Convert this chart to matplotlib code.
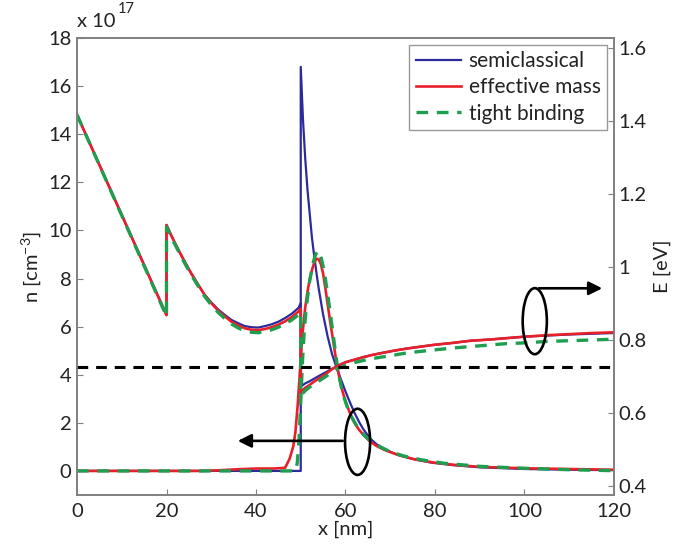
import numpy as np
import matplotlib.pyplot as plt
from matplotlib.patches import Ellipse
from matplotlib.lines import Line2D
from matplotlib.ticker import FuncFormatter

plt.rcParams['font.family'] = ['Lato', 'DejaVu Sans']

# electron density, units of 1e17 cm^-3
x_n_sc = [0, 50, 50, 50.5, 51, 51.5, 52, 52.5, 53, 53.5, 54, 55, 56, 57, 58, 59, 60, 61, 62, 63, 64,
          65.5, 67, 69, 71.5, 75, 79, 84, 90, 100, 110, 120]
n_sc = [0, 0, 16.8, 14.6, 13.0, 11.7, 10.7, 9.7, 8.95, 8.25, 7.6, 6.5, 5.6, 4.85, 4.3, 3.8, 3.3, 2.85, 2.42,
        2.05, 1.73, 1.35, 1.1, 0.88, 0.68, 0.5, 0.35, 0.24, 0.15, 0.08, 0.05, 0.03]

x_n_em = [0, 28, 32, 36, 40, 44, 46.5, 47.5, 48.3, 48.8, 49.3, 49.7, 50, 50.5, 51, 51.5, 52, 52.5, 53, 53.5,
          54, 54.5, 55, 55.5, 56, 56.5, 57, 57.5, 58, 58.5, 59, 59.5, 60, 61, 62, 63, 64, 65.5, 67, 69, 72,
          75.5, 80, 85, 90, 100, 110, 120]
n_em = [0, 0, 0.03, 0.07, 0.1, 0.1, 0.13, 0.5, 1.0, 1.6, 2.7, 3.8, 4.7, 5.9, 6.8, 7.45, 7.95, 8.35, 8.65, 8.82,
        8.8, 8.6, 8.2, 7.6, 6.95, 6.3, 5.7, 5.1, 4.5, 4.0, 3.55, 3.2, 2.9, 2.4, 2.0, 1.72, 1.5, 1.22, 1.03, 0.85,
        0.65, 0.48, 0.34, 0.24, 0.17, 0.11, 0.08, 0.05]

x_n_tb = [0, 48.8, 49.2, 49.6, 50, 50.4, 50.8, 51.3, 52, 52.7, 53.3, 53.9, 54.4, 55, 55.5, 56, 56.5, 57, 57.5,
          58, 58.5, 59, 59.5, 60.5, 61.5, 63, 64.5, 66, 68, 70, 73, 77, 82, 90, 100, 110, 120]
n_tb = [0, 0, 0.3, 1.2, 2.9, 4.6, 5.9, 6.9, 7.9, 8.6, 9.0, 9.15, 9.0, 8.5, 8.0, 7.35, 6.7, 6.0, 5.3,
        4.6, 4.0, 3.55, 3.15, 2.6, 2.2, 1.72, 1.42, 1.2, 0.98, 0.8, 0.62, 0.46, 0.32, 0.19, 0.11, 0.05, 0.01]

# conduction band edge, eV
x_E = [0, 20, 20, 21, 22, 23, 24, 25.5, 27, 28.5, 30, 31.5, 33, 34.5, 36, 37.5, 39, 40.5, 42, 43.5, 45,
       46.5, 48, 49.5, 50, 50, 51, 52, 53, 54, 55.5, 57, 58.5, 60, 62, 64, 66, 68, 71, 74, 77, 80, 84, 88,
       92, 96, 100, 105, 110, 115, 120]
E_sc = [1.417, 0.868, 1.115, 1.088, 1.063, 1.039, 1.016, 0.983, 0.953, 0.924, 0.903, 0.884, 0.869, 0.855,
        0.846, 0.838, 0.835, 0.834, 0.838, 0.843, 0.850, 0.860, 0.872, 0.888, 0.901, 0.672, 0.681, 0.687,
        0.694, 0.701, 0.711, 0.721, 0.731, 0.739, 0.746, 0.753, 0.759, 0.764, 0.771, 0.777, 0.782, 0.787,
        0.792, 0.798, 0.801, 0.805, 0.809, 0.812, 0.815, 0.817, 0.819]
E_em = [1.417, 0.868, 1.115, 1.088, 1.063, 1.039, 1.016, 0.983, 0.953, 0.924, 0.901, 0.881, 0.865, 0.850,
        0.840, 0.832, 0.828, 0.827, 0.830, 0.835, 0.842, 0.851, 0.863, 0.878, 0.886, 0.658, 0.669, 0.677,
        0.686, 0.694, 0.706, 0.720, 0.730, 0.739, 0.746, 0.753, 0.759, 0.764, 0.771, 0.777, 0.782, 0.787,
        0.792, 0.798, 0.801, 0.805, 0.809, 0.813, 0.816, 0.819, 0.821]
E_tb = [1.417, 0.865, 1.109, 1.084, 1.059, 1.035, 1.012, 0.979, 0.949, 0.920, 0.896, 0.876, 0.859, 0.844,
        0.833, 0.825, 0.821, 0.820, 0.823, 0.828, 0.835, 0.844, 0.855, 0.869, 0.876, 0.648, 0.661, 0.671,
        0.679, 0.687, 0.699, 0.712, 0.723, 0.730, 0.738, 0.744, 0.749, 0.753, 0.759, 0.765, 0.769, 0.773,
        0.778, 0.782, 0.786, 0.790, 0.792, 0.796, 0.798, 0.800, 0.802]

E_fermi = 0.726
labels = ['semiclassical', 'effective mass', 'tight binding']

c_sc = '#2b2b9c'
c_em = '#e8202a'
c_tb = '#1f9e50'
grey = '#808080'
txt = '#222222'
fs = 14.5
dash = (0, (3.5, 2.6))

fig = plt.figure(figsize=(6.87, 5.49), dpi=100)
ax = fig.add_axes([0.1121, 0.0984, 0.7816, 0.8324])
ax2 = ax.twinx()

ax.plot(x_n_sc, n_sc, color=c_sc, lw=1.6)
ax.plot(x_n_em, n_em, color=c_em, lw=1.9)
ax.plot(x_n_tb, n_tb, color=c_tb, lw=2.4, ls=dash)

ax2.plot(x_E, E_sc, color=c_sc, lw=1.6)
ax2.plot(x_E, E_em, color=c_em, lw=1.9)
ax2.plot(x_E, E_tb, color=c_tb, lw=2.4, ls=dash)
ax2.plot([0, 120], [E_fermi, E_fermi], color='k', lw=2.2, ls=dash)

ax.set_xlim(0, 120)
ax.set_ylim(-1, 18)
ax2.set_ylim(0.3753, 1.6274)
ax.set_xticks(np.arange(0, 121, 20))
ax.set_yticks(np.arange(0, 19, 2))
ax2.set_yticks([0.4, 0.6, 0.8, 1.0, 1.2, 1.4, 1.6])
ax2.yaxis.set_major_formatter(FuncFormatter(lambda v, p: '%g' % v))

for a in (ax, ax2):
    for s in a.spines.values():
        s.set_color(grey)
        s.set_linewidth(1.2)
    a.tick_params(direction='in', length=4, width=0.8, color=grey, labelsize=fs, labelcolor=txt)
ax.tick_params(axis='x', pad=6)
ax.tick_params(axis='y', pad=4)
ax2.tick_params(axis='y', pad=3)

ax.set_xlabel('x [nm]', fontsize=fs, color=txt, labelpad=0)
ax.set_ylabel('n [cm$^{\\mathregular{-3}}$]', fontsize=fs, color=txt, labelpad=3)
ax2.set_ylabel('E [eV]', fontsize=fs, color=txt, labelpad=5)
fig.text(0.112, 0.945, 'x 10', fontsize=fs, color=txt, ha='left', va='bottom')
fig.text(0.172, 0.970, '17', fontsize=10.5, color=txt, ha='left', va='bottom')

# ellipse + arrow markers
ax.add_patch(Ellipse((62.7, 1.21), 5.6, 2.75, fill=False, ec='k', lw=1.9, zorder=5))
ax.annotate('', xy=(35.3, 1.25), xytext=(60.0, 1.25),
            arrowprops=dict(arrowstyle='-|>', color='k', lw=1.9, mutation_scale=20))
ax2.add_patch(Ellipse((102.3, 0.8515), 5.4, 0.181, fill=False, ec='k', lw=1.9, zorder=5))
ax2.annotate('', xy=(118.0, 0.9416), xytext=(102.6, 0.9416),
             arrowprops=dict(arrowstyle='-|>', color='k', lw=1.9, mutation_scale=20))

handles = [Line2D([], [], color=c_sc, lw=1.6),
           Line2D([], [], color=c_em, lw=1.9),
           Line2D([], [], color=c_tb, lw=2.4, ls=dash)]
leg = ax2.legend(handles, labels, loc='upper right', bbox_to_anchor=(0.987, 0.9847), fontsize=15,
                 frameon=True, fancybox=False, edgecolor=grey, handlelength=2.2, handletextpad=0.35,
                 borderpad=0.3, labelspacing=0.3, borderaxespad=0)
leg.get_frame().set_linewidth(1.0)
for t in leg.get_texts():
    t.set_color(txt)

fig.savefig('out.png', dpi=100)
